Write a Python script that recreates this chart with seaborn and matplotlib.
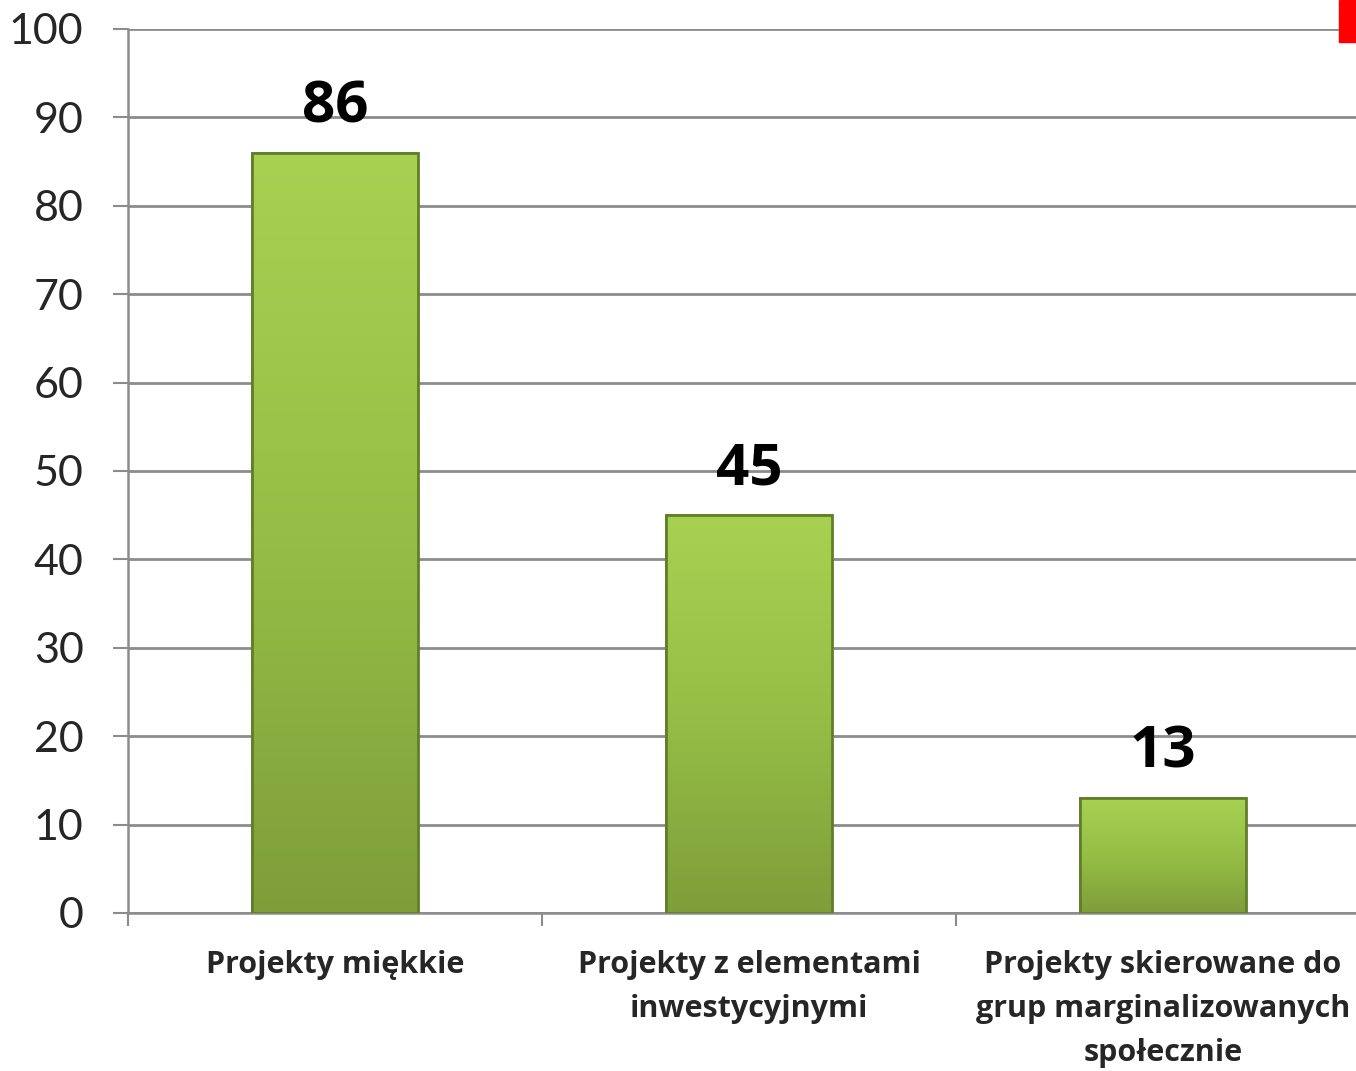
import numpy as np
import pandas as pd
import matplotlib
matplotlib.use('Agg')
import matplotlib.pyplot as plt
from matplotlib.colors import LinearSegmentedColormap
from matplotlib.patches import Rectangle
import seaborn as sns

# Dane
kategorie = ['Projekty miękkie',
             'Projekty z elementami\ninwestycyjnymi',
             'Projekty skierowane do\ngrup marginalizowanych\nspołecznie']
wartosci = [86, 45, 13]
y_ticks = list(range(0, 101, 10))

df = pd.DataFrame({'kategoria': kategorie, 'liczba': wartosci})

sns.set_style('white')
plt.rcParams['font.family'] = ['Lato', 'DejaVu Sans']
bold_font = ['Open Sans', 'DejaVu Sans']

fig = plt.figure(figsize=(13.56, 10.71), dpi=100)
ax = fig.add_axes([128 / 1356, 1 - 913 / 1071, 1242 / 1356, (913 - 29) / 1071])

sns.barplot(data=df, x='kategoria', y='liczba', color='#9CC447', width=0.40,
            saturation=1, ax=ax, zorder=3)

# gradient na słupkach
cmap = LinearSegmentedColormap.from_list('g', ['#7E9E3A', '#96BE46', '#A8D152'])
grad = np.linspace(0, 1, 256).reshape(-1, 1)
for p in ax.patches:
    x0, w, h = p.get_x(), p.get_width(), p.get_height()
    im = ax.imshow(grad, cmap=cmap, aspect='auto', origin='lower',
                   extent=[x0, x0 + w, 0, h], zorder=4)
    im.set_clip_path(p)
    p.set_edgecolor('#5E7A2A')
    p.set_linewidth(1.2)
    ax.add_patch(Rectangle((x0, 0), w, h, fill=False, edgecolor='#617F2B',
                           linewidth=2, zorder=5))

ax.bar_label(ax.containers[0], labels=[str(v) for v in wartosci], padding=12,
             fontsize=42, fontweight='bold', family=bold_font, color='black',
             zorder=6)

ax.set_xlim(-0.5, 2.5)
ax.set_ylim(0, 100)
ax.set_yticks(y_ticks)
ax.set_yticklabels([str(t) for t in y_ticks], fontsize=31)
ax.yaxis.grid(True, color='#8C8C8C', linewidth=2, zorder=1)
ax.set_axisbelow(True)
ax.tick_params(axis='y', length=11, width=1.5, color='#8C8C8C', pad=21, left=True)

# podpisy kategorii i znaczniki między kategoriami
ax.set_xticks([-0.5, 0.5, 1.5, 2.5])
ax.set_xticklabels([])
ax.tick_params(axis='x', which='major', length=9, width=1.5, color='#8C8C8C',
               bottom=True, direction='out')
ax.set_xticks([0, 1, 2], minor=True)
ax.set_xticklabels(kategorie, minor=True, fontsize=22, fontweight='bold',
                   family=bold_font, linespacing=1.6, va='top')
ax.tick_params(axis='x', which='minor', length=0, pad=27)

ax.set_xlabel('')
ax.set_ylabel('')
for s in ['top', 'right']:
    ax.spines[s].set_visible(False)
for s in ['left', 'bottom']:
    ax.spines[s].set_color('#8C8C8C')
    ax.spines[s].set_linewidth(1.8)

# czerwony znacznik w prawym górnym rogu
fig.patches.append(Rectangle((1339 / 1356, 1 - 42 / 1071), 17 / 1356, 42 / 1071,
                             transform=fig.transFigure, color='#FF0000', zorder=10))

fig.savefig('out.png', dpi=100)
